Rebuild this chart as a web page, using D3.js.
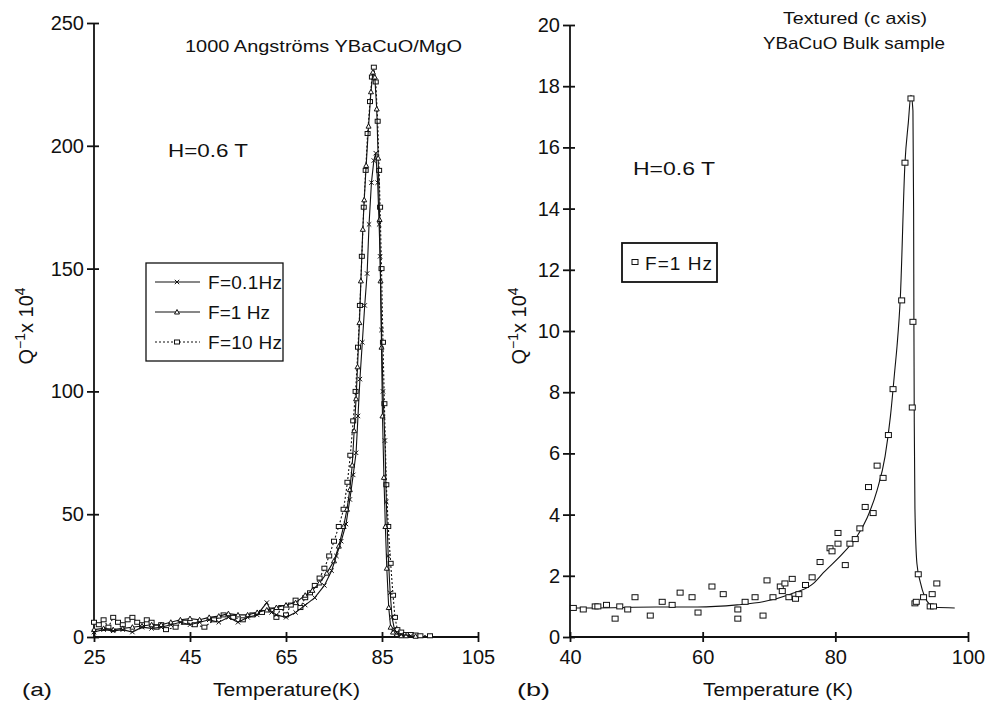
<!DOCTYPE html>
<html lang="en">
<head>
  <meta charset="UTF-8" />
  <title>Internal friction peaks</title>
  <style>
    body { margin: 0; background: #fff; }
    svg text { font-family: "Liberation Sans", Arial, sans-serif; fill: #111; }
    .axis path, .axis line { stroke: #111; stroke-width: 1.8px; }
    .axis text { font-size: 20px; }
    .curve { fill: none; stroke: #111; stroke-width: 1.1px; }
    .mark { fill: #fff; stroke: #111; stroke-width: 1px; }
  </style>
  <script src="https://d3js.org/d3.v7.min.js"></script>
</head>
<body>
  <div id="chart"></div>
  <script type="text/javascript">
    // ---- panel (a): 1000 A YBaCuO/MgO film, H = 0.6 T ----
    const tempF01 = [25, 27, 29, 31, 33, 35, 37, 39, 41, 43, 45, 47, 49, 51, 53, 55, 57, 59, 61, 62, 63, 65, 67, 69, 71, 73, 74.5, 75.5, 76.5, 77.5, 78.3, 79, 79.6, 80, 80.4, 80.9, 81.4, 81.9, 82.3, 82.8, 83.3, 83.7, 84.1, 84.4, 84.6, 84.9, 85.2, 85.6, 85.9, 86.3, 86.7, 87.1, 87.6, 88.2, 89, 91];
    const qF01    = [2, 3, 2.5, 3, 2, 4, 3.5, 4, 5, 6, 5, 6, 7, 6, 8, 6, 8, 9, 14, 10, 9, 8, 10, 13, 16, 21, 27, 33, 39, 46, 56, 66, 75, 90, 105, 120, 135, 148, 168, 185, 194, 197, 185, 168, 155, 125, 100, 80, 55, 33, 18, 8, 3, 1.5, 1, 0.5];

    const tempF1 = [25, 27, 29, 31, 33, 35, 37, 39, 41, 43, 45, 47, 49, 51, 53, 55, 57, 59, 61, 63, 65, 67, 69, 70.5, 72, 73.5, 75, 76, 77, 77.7, 78.3, 78.8, 79.2, 79.6, 79.9, 80.3, 80.6, 81, 81.3, 81.7, 82.2, 82.7, 83.1, 83.5, 83.9, 84.2, 84.5, 84.7, 84.9, 85.1, 85.4, 85.7, 86, 86.4, 86.8, 87.3, 88, 89, 90, 92];
    const qF1    = [3, 3.5, 3, 3.5, 4, 4.5, 5, 5, 6, 7, 7.5, 7, 8, 8.5, 9.5, 9, 9, 10, 11, 12, 13, 14, 17, 19, 22, 26, 31, 37, 45, 52, 60, 70, 84, 97, 110, 128, 145, 166, 178, 192, 208, 222, 230, 228, 215, 195, 170, 145, 118, 90, 65, 45, 28, 12, 4, 2, 1, 0.5, 0.5, 0.3];

    const tempF10 = [25, 26, 27, 28, 29, 30, 31, 32, 33, 34, 35, 36, 37, 38, 39, 40, 42, 44, 46, 48, 50, 52, 54, 56, 58, 60, 62, 63, 64, 65, 66, 67, 68, 69, 70, 71, 72, 73, 74, 75, 76, 77, 77.8, 78.4, 79, 79.5, 80, 80.4, 80.8, 81.2, 81.6, 82, 82.5, 82.9, 83.3, 83.7, 84.1, 84.4, 84.6, 84.9, 85.2, 85.5, 85.9, 86.3, 86.8, 87.3, 87.7, 88.2, 89, 90, 91, 92, 93, 95];
    const qF10    = [6, 5, 7, 4, 8, 6, 5, 7, 8, 6, 5, 7, 6, 4, 5, 3, 4, 6, 5, 4, 7, 9, 8, 7, 9, 10, 11, 8, 12, 9, 13, 15, 12, 16, 18, 21, 24, 28, 33, 39, 45, 52, 63, 74, 88, 100, 118, 135, 155, 175, 190, 205, 218, 228, 232, 226, 210, 190, 175, 150, 120, 95, 62, 45, 30, 17, 8, 3, 2, 1, 1, 0.8, 0.5, 0.5];

    const xTicksA = [25, 45, 65, 85, 105];
    const yTicksA = [0, 50, 100, 150, 200, 250];
    const legendA = ["F=0.1Hz", "F=1 Hz", "F=10 Hz"];

    // ---- panel (b): textured bulk sample, F = 1 Hz ----
    const tempBulk = [40.5, 42, 43.8, 44.2, 45.5, 46.8, 47.5, 48.7, 49.8, 52.1, 53.9, 55.4, 56.6, 58.4, 59.3, 61.4, 63.1, 65.3, 65.3, 66.4, 67.9, 69.1, 69.7, 70.6, 71.7, 72, 72.4, 73, 73.5, 74, 74.5, 75.5, 76.5, 77.7, 79.2, 79.5, 80.4, 80.4, 81.5, 82.2, 83, 83.7, 84.5, 85, 85.7, 86.3, 87.2, 88, 88.7, 90, 90.5, 91.4, 91.7, 91.6, 92.5, 92, 92.2, 93.3, 94.6, 95.3, 94.3, 94.8];
    const qBulk    = [0.95, 0.9, 1.0, 1.0, 1.05, 0.6, 1.0, 0.9, 1.3, 0.7, 1.15, 1.05, 1.45, 1.3, 0.8, 1.65, 1.4, 0.9, 0.6, 1.15, 1.3, 0.7, 1.85, 1.3, 1.65, 1.5, 1.75, 1.3, 1.9, 1.25, 1.4, 1.7, 1.95, 2.45, 2.9, 2.8, 3.4, 3.05, 2.35, 3.05, 3.2, 3.55, 4.25, 4.9, 4.05, 5.6, 5.2, 6.6, 8.1, 11.0, 15.5, 17.6, 10.3, 7.5, 2.05, 1.1, 1.15, 1.3, 1.4, 1.75, 1.0, 1.0];

    const tempFit = [40, 43, 53.1, 59.2, 65.2, 69.1, 73.2, 76.7, 78.2, 81.2, 83.3, 84.8, 86.3, 87.5, 88.3, 89, 89.3, 89.8, 90.5, 91, 91.4, 91.7, 91.8, 91.85, 91.9, 92, 92.3, 92.8, 93.5, 94.3, 95, 98];
    const qFit    = [0.95, 0.95, 0.98, 0.98, 1.05, 1.15, 1.4, 1.75, 2.1, 2.75, 3.3, 3.9, 4.8, 5.9, 7.2, 8.8, 9.5, 11.1, 15.5, 16.8, 17.7, 17.2, 14, 10, 7, 4.2, 2.4, 1.8, 1.3, 1.05, 0.97, 0.95];

    const xTicksB = [40, 60, 80, 100];
    const yTicksB = [0, 2, 4, 6, 8, 10, 12, 14, 16, 18, 20];

    const zip = (a, b) => a.map((v, i) => [v, b[i]]);

    const svg = d3.select("#chart").append("svg")
      .attr("width", 987)
      .attr("height", 701);

    const xA = d3.scaleLinear().domain([25, 105]).range([94, 478]);
    const yA = d3.scaleLinear().domain([0, 250]).range([637, 23]);
    const xB = d3.scaleLinear().domain([40, 100]).range([570, 968]);
    const yB = d3.scaleLinear().domain([0, 20]).range([637, 25]);

    function drawAxes(x, y, xt, yt) {
      const gy = svg.append("g")
        .attr("class", "axis")
        .attr("transform", `translate(${x.range()[0]},0)`)
        .call(d3.axisLeft(y).tickValues(yt).tickSizeOuter(0).tickSize(7).tickPadding(3).tickFormat(d3.format("d")));
      gy.selectAll(".tick line").attr("x1", 5).attr("x2", -7);

      const gx = svg.append("g")
        .attr("class", "axis")
        .attr("transform", `translate(0,${y.range()[0]})`)
        .call(d3.axisBottom(x).tickValues(xt).tickSizeOuter(0).tickSize(5).tickPadding(8).tickFormat(d3.format("d")));
      gx.selectAll(".tick line").attr("y1", -5).attr("y2", 5);
      gx.select(".domain").attr("d", `M${x.range()[0]},0H${x.range()[1]}`);
      gy.select(".domain").attr("d", `M0,${y.range()[0]}V${y.range()[1]}`);
    }

    drawAxes(xA, yA, xTicksA, yTicksA);
    drawAxes(xB, yB, xTicksB, yTicksB);

    // marker helpers
    function markX(g, cx, cy, s) {
      g.append("path").attr("class", "mark")
        .attr("d", `M${cx - s},${cy - s}L${cx + s},${cy + s}M${cx - s},${cy + s}L${cx + s},${cy - s}`);
    }
    function markTri(g, cx, cy, s) {
      g.append("path").attr("class", "mark")
        .attr("d", `M${cx},${cy - s}L${cx + s},${cy + s * 0.8}L${cx - s},${cy + s * 0.8}Z`);
    }
    function markSq(g, cx, cy, w, h) {
      g.append("rect").attr("class", "mark")
        .attr("x", cx - w / 2).attr("y", cy - h / 2)
        .attr("width", w).attr("height", h);
    }

    function series(x, y, data, dash, marker, curve) {
      const g = svg.append("g");
      g.append("path")
        .datum(data)
        .attr("class", "curve")
        .attr("stroke-dasharray", dash)
        .attr("d", d3.line().x(d => x(d[0])).y(d => y(d[1])).curve(curve || d3.curveLinear));
      if (marker) data.forEach(d => marker(g, x(d[0]), y(d[1])));
      return g;
    }

    series(xA, yA, zip(tempF10, qF10), "2,2", (g, cx, cy) => markSq(g, cx, cy, 5, 4));
    series(xA, yA, zip(tempF1, qF1), null, (g, cx, cy) => markTri(g, cx, cy, 2.5));
    series(xA, yA, zip(tempF01, qF01), null, (g, cx, cy) => markX(g, cx, cy, 2.2));

    // panel b: fitted curve + squares
    series(xB, yB, zip(tempFit, qFit), null, null, d3.curveMonotoneX)
      .select("path").attr("stroke-width", 1.5);
    const gb = svg.append("g");
    zip(tempBulk, qBulk).forEach(d => markSq(gb, xB(d[0]), yB(d[1]), 6, 5));
    gb.selectAll("rect").attr("stroke-width", 1.4);

    // legend a
    svg.append("rect")
      .attr("x", 146).attr("y", 263).attr("width", 137).attr("height", 98)
      .attr("fill", "none").attr("stroke", "#111").attr("stroke-width", 1.3);
    const legMarks = [
      (g, cx, cy) => markX(g, cx, cy, 2.2),
      (g, cx, cy) => markTri(g, cx, cy, 2.5),
      (g, cx, cy) => markSq(g, cx, cy, 5, 4)
    ];
    legendA.forEach((t, i) => {
      const ly = 282 + i * 30;
      const g = svg.append("g");
      g.append("line")
        .attr("x1", 155).attr("x2", 200).attr("y1", ly).attr("y2", ly)
        .attr("stroke", "#111").attr("stroke-width", 1.2)
        .attr("stroke-dasharray", i === 2 ? "2,2" : null);
      legMarks[i](g, 177, ly);
      g.append("text")
        .attr("x", 208).attr("y", ly + 7)
        .attr("font-size", 19)
        .attr("textLength", [74, 62, 74][i])
        .text(t);
    });

    // legend b
    svg.append("rect")
      .attr("x", 622).attr("y", 243).attr("width", 95).attr("height", 39)
      .attr("fill", "none").attr("stroke", "#111").attr("stroke-width", 1.8);
    markSq(svg, 635, 262, 6, 5);
    svg.append("text").attr("x", 645).attr("y", 270)
      .attr("font-size", 19).attr("textLength", 67).text("F=1  Hz");

    // annotations
    function label(x, y, txt, size, len, anchor) {
      return svg.append("text")
        .attr("x", x).attr("y", y)
        .attr("font-size", size)
        .attr("text-anchor", anchor || "start")
        .attr("textLength", len)
        .attr("lengthAdjust", "spacingAndGlyphs")
        .text(txt);
    }
    label(185, 52, "1000 Angströms YBaCuO/MgO", 17, 277);
    label(168, 157, "H=0.6 T", 18, 80);
    label(633, 175, "H=0.6 T", 18, 82);
    label(783, 24, "Textured (c axis)", 17, 144);
    label(763, 49, "YBaCuO Bulk sample", 17, 182);
    label(22, 696, "(a)", 18, 30);
    label(213, 696, "Temperature(K)", 18, 147);
    label(517, 696, "(b)", 18, 33);
    label(703, 696, "Temperature (K)", 18, 150);

    // y-axis titles
    function yTitle(x, y) {
      const t = svg.append("text")
        .attr("transform", `translate(${x},${y}) rotate(-90)`)
        .attr("text-anchor", "middle")
        .attr("font-size", 20);
      t.append("tspan").text("Q");
      t.append("tspan").attr("dy", -8).attr("font-size", 14).text("−1");
      t.append("tspan").attr("dy", 8).text("x 10");
      t.append("tspan").attr("dy", -8).attr("font-size", 14).text("4");
    }
    yTitle(33, 326);
    yTitle(526, 326);
  </script>
</body>
</html>
